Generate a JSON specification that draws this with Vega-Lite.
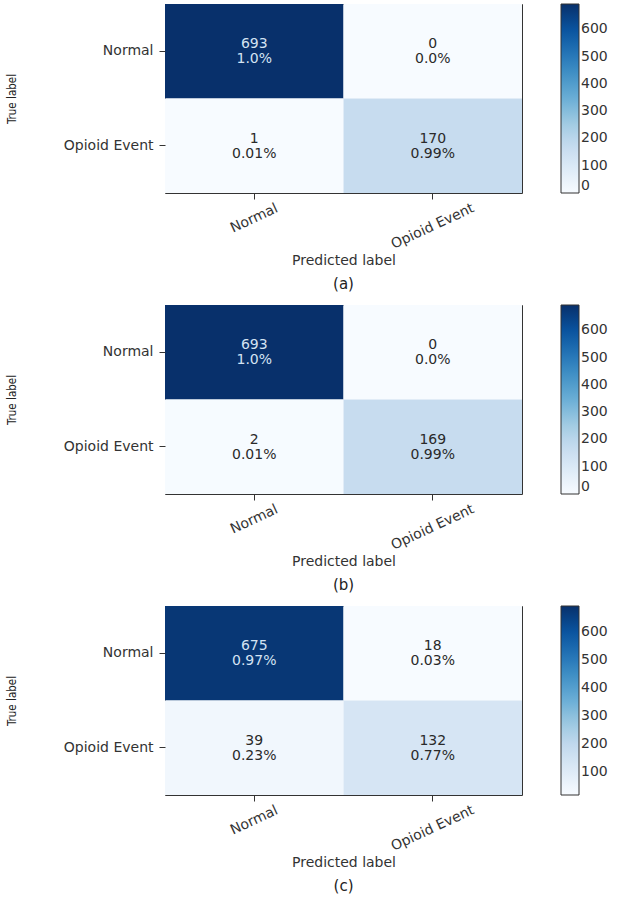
{
  "$schema": "https://vega.github.io/schema/vega-lite/v6.json",
  "padding": {"left": 5, "top": 3, "right": 5, "bottom": 0},
  "background": "white",
  "config": {
    "view": {"stroke": "#333", "strokeWidth": 1},
    "font": "DejaVu Sans",
    "axis": {"labelFont": "DejaVu Sans", "labelFontSize": 14, "labelColor": "#333", "tickColor": "#333", "tickSize": 6, "domain": false, "grid": false, "titleFont": "DejaVu Sans", "titleFontWeight": "normal", "titleColor": "#333"},
    "axisX": {"labelAngle": -25, "labelAlign": "center", "labelBaseline": "middle", "titleFontSize": 14, "titlePadding": 2},
    "axisY": {"labelPadding": 6, "titleFont": "DejaVu Sans Condensed", "titleFontSize": 11.5, "titleColor": "#222", "titlePadding": 46},
    "legend": {"gradientLength": 189, "gradientThickness": 18, "gradientStrokeColor": "#333", "gradientStrokeWidth": 1, "labelFontSize": 14, "labelColor": "#333", "labelOffset": 12, "offset": 39, "padding": 0},
    "title": {"orient": "bottom", "fontSize": 15, "fontWeight": "normal", "font": "DejaVu Sans", "color": "#222", "offset": 10}
  },
  "datasets": {
    "a": [
      {"actual": "Normal", "predicted": "Normal", "count": 693, "pct": "1.0%"},
      {"actual": "Normal", "predicted": "Opioid Event", "count": 0, "pct": "0.0%"},
      {"actual": "Opioid Event", "predicted": "Normal", "count": 1, "pct": "0.01%"},
      {"actual": "Opioid Event", "predicted": "Opioid Event", "count": 170, "pct": "0.99%"}
    ],
    "b": [
      {"actual": "Normal", "predicted": "Normal", "count": 693, "pct": "1.0%"},
      {"actual": "Normal", "predicted": "Opioid Event", "count": 0, "pct": "0.0%"},
      {"actual": "Opioid Event", "predicted": "Normal", "count": 2, "pct": "0.01%"},
      {"actual": "Opioid Event", "predicted": "Opioid Event", "count": 169, "pct": "0.99%"}
    ],
    "c": [
      {"actual": "Normal", "predicted": "Normal", "count": 675, "pct": "0.97%"},
      {"actual": "Normal", "predicted": "Opioid Event", "count": 18, "pct": "0.03%"},
      {"actual": "Opioid Event", "predicted": "Normal", "count": 39, "pct": "0.23%"},
      {"actual": "Opioid Event", "predicted": "Opioid Event", "count": 132, "pct": "0.77%"}
    ]
  },
  "spacing": 11,
  "resolve": {"scale": {"color": "independent"}, "legend": {"color": "independent"}},
  "vconcat": [
    {
      "title": "(a)",
      "width": 357, "height": 189,
      "data": {"name": "a"},
      "encoding": {
        "x": {"field": "predicted", "type": "nominal", "sort": ["Normal", "Opioid Event"], "scale": {"paddingInner": 0, "paddingOuter": 0}, "axis": {"title": "Predicted label", "labelPadding": {"condition": {"test": "datum.value === 'Normal'", "value": 19}, "value": 27}}},
        "y": {"field": "actual", "type": "nominal", "sort": ["Normal", "Opioid Event"], "scale": {"paddingInner": 0, "paddingOuter": 0}, "axis": {"title": "True label"}}
      },
      "layer": [
        {"mark": {"type": "rect"}, "encoding": {"color": {"field": "count", "type": "quantitative", "scale": {"domain": [0, 86.625, 173.25, 259.875, 346.5, 433.125, 519.75, 606.375, 693], "range": ["#f7fbff", "#deebf7", "#c6dbef", "#9ecae1", "#6baed6", "#4292c6", "#2171b5", "#08519c", "#08306b"], "interpolate": "rgb"}, "legend": {"title": null, "values": [0, 100, 200, 300, 400, 500, 600]}}}},
        {"mark": {"type": "text", "dy": -7, "fontSize": 14}, "encoding": {"text": {"field": "count", "type": "quantitative"}, "color": {"condition": {"test": "datum.count > 346", "value": "#d4e3f3"}, "value": "#2a2a2a"}}},
        {"mark": {"type": "text", "dy": 8, "fontSize": 14}, "encoding": {"text": {"field": "pct", "type": "nominal"}, "color": {"condition": {"test": "datum.count > 346", "value": "#d4e3f3"}, "value": "#2a2a2a"}}}
      ]
    },
    {
      "title": "(b)",
      "width": 357, "height": 189,
      "data": {"name": "b"},
      "encoding": {
        "x": {"field": "predicted", "type": "nominal", "sort": ["Normal", "Opioid Event"], "scale": {"paddingInner": 0, "paddingOuter": 0}, "axis": {"title": "Predicted label", "labelPadding": {"condition": {"test": "datum.value === 'Normal'", "value": 19}, "value": 27}}},
        "y": {"field": "actual", "type": "nominal", "sort": ["Normal", "Opioid Event"], "scale": {"paddingInner": 0, "paddingOuter": 0}, "axis": {"title": "True label"}}
      },
      "layer": [
        {"mark": {"type": "rect"}, "encoding": {"color": {"field": "count", "type": "quantitative", "scale": {"domain": [0, 86.625, 173.25, 259.875, 346.5, 433.125, 519.75, 606.375, 693], "range": ["#f7fbff", "#deebf7", "#c6dbef", "#9ecae1", "#6baed6", "#4292c6", "#2171b5", "#08519c", "#08306b"], "interpolate": "rgb"}, "legend": {"title": null, "values": [0, 100, 200, 300, 400, 500, 600]}}}},
        {"mark": {"type": "text", "dy": -7, "fontSize": 14}, "encoding": {"text": {"field": "count", "type": "quantitative"}, "color": {"condition": {"test": "datum.count > 346", "value": "#d4e3f3"}, "value": "#2a2a2a"}}},
        {"mark": {"type": "text", "dy": 8, "fontSize": 14}, "encoding": {"text": {"field": "pct", "type": "nominal"}, "color": {"condition": {"test": "datum.count > 346", "value": "#d4e3f3"}, "value": "#2a2a2a"}}}
      ]
    },
    {
      "title": "(c)",
      "width": 357, "height": 189,
      "data": {"name": "c"},
      "encoding": {
        "x": {"field": "predicted", "type": "nominal", "sort": ["Normal", "Opioid Event"], "scale": {"paddingInner": 0, "paddingOuter": 0}, "axis": {"title": "Predicted label", "labelPadding": {"condition": {"test": "datum.value === 'Normal'", "value": 19}, "value": 27}}},
        "y": {"field": "actual", "type": "nominal", "sort": ["Normal", "Opioid Event"], "scale": {"paddingInner": 0, "paddingOuter": 0}, "axis": {"title": "True label"}}
      },
      "layer": [
        {"mark": {"type": "rect"}, "encoding": {"color": {"field": "count", "type": "quantitative", "scale": {"domain": [18, 102.375, 186.75, 271.125, 355.5, 439.875, 524.25, 608.625, 693], "range": ["#f7fbff", "#deebf7", "#c6dbef", "#9ecae1", "#6baed6", "#4292c6", "#2171b5", "#08519c", "#08306b"], "interpolate": "rgb"}, "legend": {"title": null, "values": [100, 200, 300, 400, 500, 600]}}}},
        {"mark": {"type": "text", "dy": -7, "fontSize": 14}, "encoding": {"text": {"field": "count", "type": "quantitative"}, "color": {"condition": {"test": "datum.count > 346", "value": "#d4e3f3"}, "value": "#2a2a2a"}}},
        {"mark": {"type": "text", "dy": 8, "fontSize": 14}, "encoding": {"text": {"field": "pct", "type": "nominal"}, "color": {"condition": {"test": "datum.count > 346", "value": "#d4e3f3"}, "value": "#2a2a2a"}}}
      ]
    }
  ]
}
